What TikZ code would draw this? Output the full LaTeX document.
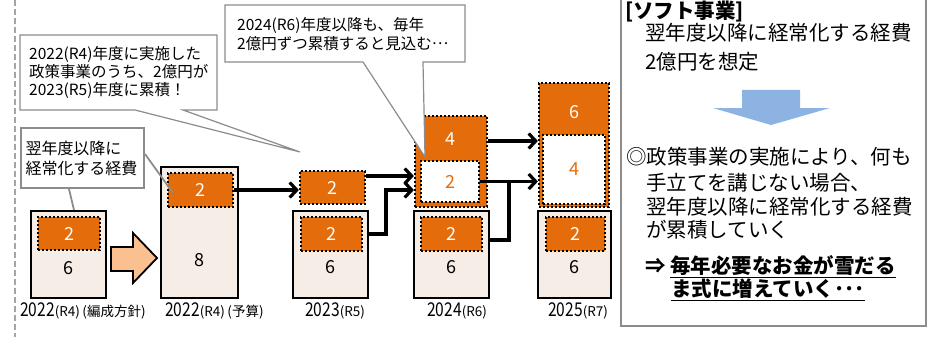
\documentclass[tikz,border=0pt]{standalone}
\usepackage{fontspec}
\usepackage{graphicx}
\setmainfont{Noto Sans CJK JP}
\usetikzlibrary{arrows.meta,calc}
\definecolor{orc}{HTML}{E46C0A}
\definecolor{beigec}{HTML}{F6EDE6}
\definecolor{blockc}{HTML}{FAC090}
\definecolor{bluec}{HTML}{8DB3E2}
\definecolor{callgray}{HTML}{8C8C8C}
\definecolor{dashgray}{HTML}{A6A6A6}
\newcommand\numfont{\fontsize{18}{18}\selectfont}
\newcommand\yrlab[2]{{\fontsize{19}{19}\selectfont\scalebox{0.82}[1]{#1}}{\fontsize{13.5}{13.5}\selectfont #2}}
\tikzset{
  every node/.style={inner sep=0pt},
  beigebox/.style={draw=black,line width=2pt,fill=beigec},
  orbox/.style={draw=black,line width=2.2pt,dash pattern=on 2.2pt off 1.8pt,fill=orc,text=white,font=\numfont},
  whbox/.style={draw=black,line width=2.2pt,dash pattern=on 2.2pt off 1.8pt,fill=white,text=orc,font=\numfont},
  num/.style={font=\numfont,text=black},
  conn/.style={line width=3.2pt,-{Straight Barb[length=7pt,width=15pt]}},
  connl/.style={line width=3.2pt},
  callshape/.style={draw=callgray,fill=white,line width=1.2pt,line join=miter},
  ylab/.style={anchor=west},
  rtxt/.style={anchor=west,font=\fontsize{20.5}{24}\selectfont},
}
\begin{document}
\begin{tikzpicture}[x=1pt,y=-1pt]
\useasboundingbox (0,0) rectangle (935,337);
% left dashed divider
\draw[dashgray,line width=1.8pt,dash pattern=on 6pt off 3pt] (15,0) -- (15,337);

% ---- 2022 (編成方針)
\node[beigebox,minimum width=75pt,minimum height=87pt] (Ab) at (68.5,254.5) {};
\node[orbox,minimum width=62pt,minimum height=33pt] (Ao) at (69,233.5) {2};
\node[num] (An) at (68,268) {6};
\node[ylab] (Al) at (20,311) {\yrlab{2022}{(R4)\hspace{2.5pt}(編成方針)}};

% block arrow
\draw[fill=blockc,line width=1.8pt,line join=miter] (111,247) -- (133,247) -- (133,233) -- (157,258) -- (133,283) -- (133,271) -- (111,271) -- cycle;

% ---- 2022 (予算)
\node[beigebox,minimum width=77pt,minimum height=131pt] (Bb) at (199.5,232.5) {};
\node[orbox,minimum width=65pt,minimum height=34pt] (Bo) at (200.5,190) {2};
\node[num] (Bn) at (199,260) {8};
\node[ylab] (Bl) at (165,311) {\yrlab{2022}{(R4)\hspace{2.5pt}(予算)}};

% ---- 2023
\node[orbox,minimum width=65pt,minimum height=33pt] (Ct) at (332.5,187.5) {2};
\node[beigebox,minimum width=75pt,minimum height=87pt] (Cb) at (330.5,254.5) {};
\node[orbox,minimum width=61pt,minimum height=34pt] (Co) at (331.5,234) {2};
\node[num] (Cn) at (330,267) {6};
\node[ylab] (Cl) at (305,311) {\yrlab{2023}{(R5)}};

% ---- 2024
\node[orbox,minimum width=72pt,minimum height=91pt] (Dt) at (451,161.5) {};
\node[orbox,draw=none] (Dtn) at (450,139) {4};
\node[whbox,minimum width=58pt,minimum height=41pt] (Dw) at (450,181.5) {2};
\node[beigebox,minimum width=75pt,minimum height=87pt] (Db) at (451.5,254.5) {};
\node[orbox,minimum width=61pt,minimum height=34pt] (Do) at (451.5,234) {2};
\node[num] (Dn) at (451,267) {6};
\node[ylab] (Dl) at (427,311) {\yrlab{2024}{(R6)}};

% ---- 2025
\node[orbox,minimum width=70pt,minimum height=124pt] (Et) at (574,145) {};
\node[orbox,draw=none] (Etn) at (574,112) {6};
\node[whbox,minimum width=62pt,minimum height=69pt] (Ew) at (574,169.5) {4};
\node[beigebox,minimum width=73pt,minimum height=87pt] (Eb) at (574.5,254.5) {};
\node[orbox,minimum width=59pt,minimum height=34pt] (Eo) at (575.5,234) {2};
\node[num] (En) at (574,267) {6};
\node[ylab] (El) at (548,311) {\yrlab{2025}{(R7)}};

% ---- connectors
\draw[conn] (Bo.east) -- (Bo.east -| Ct.west);
\draw[conn] ([yshift=11.5pt]Ct.east) -- ([yshift=11.5pt]Ct.east -| Dt.west);
\draw[conn] ([yshift=20.5pt]Cb.east) -- ++(17,0) |- ([yshift=-28.5pt]Dt.west);
\draw[conn] ([yshift=20.5pt]Dt.east) -- ([yshift=20.5pt]Dt.east -| Et.west);
\draw[conn] (Dw.east) -- (Dw.east -| Et.west);
\draw[connl] ([yshift=14.5pt]Db.east) -| ($(Dw.east)!0.5!(Dw.east -| Et.west)$);

% ---- callouts
\draw[callshape] (20,35) -- (217,35) -- (217,110) -- (183,110) -- (300,152) -- (135,110) -- (20,110) -- cycle;
\node[anchor=north west,text width=179pt,align=left,minimum height=75pt,inner xsep=9pt,font=\fontsize{15.5}{18}\selectfont] (c2) at (20,35)
  {2022(R4)年度に実施した\\政策事業のうち、2億円が\\2023(R5)年度に累積！};
\draw[callshape] (225,5) -- (465,5) -- (465,62) -- (423,62) -- (425,157) -- (363,62) -- (225,62) -- cycle;
\node[anchor=north west,text width=216pt,align=left,minimum height=57pt,inner xsep=12pt,font=\fontsize{15.5}{19}\selectfont] (c3) at (225,5)
  {2024(R6)年度以降も、毎年\\2億円ずつ累積すると見込む\raisebox{0.3em}{…}};
\node[anchor=north west,draw=callgray,fill=white,line width=2pt,text width=114pt,align=left,minimum height=60pt,inner xsep=4.5pt,font=\fontsize{16}{20}\selectfont] (c1) at (20,127)
  {翌年度以降に\\経常化する経費};
\draw[callgray,line width=1.8pt] ([xshift=-13.5pt]c1.south) -- ([xshift=5.5pt]Ab.north);
\draw[callgray,line width=1.8pt] ([yshift=4pt]c1.east) -- ($(Bo.center)+(-27.5,3)$);

% ---- right panel
\draw[callgray,line width=1.8pt] (621,-5) rectangle (926,326);
\node[rtxt,font=\fontsize{20.5}{24}\selectfont\bfseries] (t1) at (625,12) {[ソフト事業]};
\node[rtxt] (t2) at (645,33) {翌年度以降に経常化する経費};
\node[rtxt] (t3) at (645,62) {2億円を想定};
\fill[bluec] (742,90) -- (800,90) -- (800,108) -- (830,108) -- (771,125) -- (713,108) -- (742,108) -- cycle;
\node[rtxt] (t4) at (626,157) {◎政策事業の実施により、何も};
\node[rtxt] (t5) at (646,183) {手立てを講じない場合、};
\node[rtxt] (t6) at (646,207) {翌年度以降に経常化する経費};
\node[rtxt] (t7) at (646,230) {が累積していく};
\node[rtxt,font=\fontsize{20.5}{24}\selectfont\bfseries] (t8) at (645,267) {⇒ \underline{毎年必要なお金が雪だる}};
\node[rtxt,font=\fontsize{20.5}{24}\selectfont\bfseries] (t9) at (671,290) {\underline{ま式に増えていく･･･}};
\end{tikzpicture}
\end{document}
